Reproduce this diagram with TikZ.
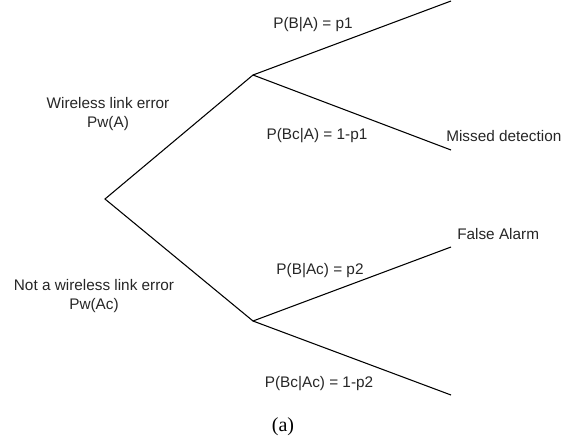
\documentclass[tikz,border=0pt]{standalone}
\usepackage{fontspec}
\setmainfont{Liberation Sans}
\newfontfamily\capfont{Liberation Serif}
\begin{document}
\begin{tikzpicture}[x=0.75pt,y=-0.75pt,
  lbl/.style={font=\fontsize{11.5}{14.5}\selectfont, inner sep=0pt, align=center, text=black!85},
  branch/.style={line width=0.8pt}]
\useasboundingbox (0,0) rectangle (563,446);
\coordinate (root) at (105,199);
\coordinate (na) at (253,75);
\coordinate (nac) at (253,321);
\coordinate (la1) at (451,1);
\coordinate (la2) at (451,150);
\coordinate (lb1) at (451,247);
\coordinate (lb2) at (451,395);
\draw[branch] (la1) -- (na) -- (root) -- (nac) -- (lb1);
\draw[branch] (na) -- (la2);
\draw[branch] (nac) -- (lb2);
\node[lbl] (t1) at (313,25) {P(B|A) = p1};
\node[lbl] (t2) at (108,114) {Wireless link error\\Pw(A)};
\node[lbl] (t3) at (317,136) {P(Bc|A) = 1-p1};
\node[lbl, anchor=west] (t4) at (446,136) {Missed detection};
\node[lbl, anchor=west] (t5) at (457,234) {False Alarm};
\node[lbl] (t6) at (320,271) {P(B|Ac) = p2};
\node[lbl] (t7) at (94,296) {Not a wireless link error\\Pw(Ac)};
\node[lbl] (t8) at (319,384) {P(Bc|Ac) = 1-p2};
\node[inner sep=0pt, font=\capfont\fontsize{15}{18}\selectfont] (cap) at (283,427) {(a)};
\end{tikzpicture}
\end{document}
